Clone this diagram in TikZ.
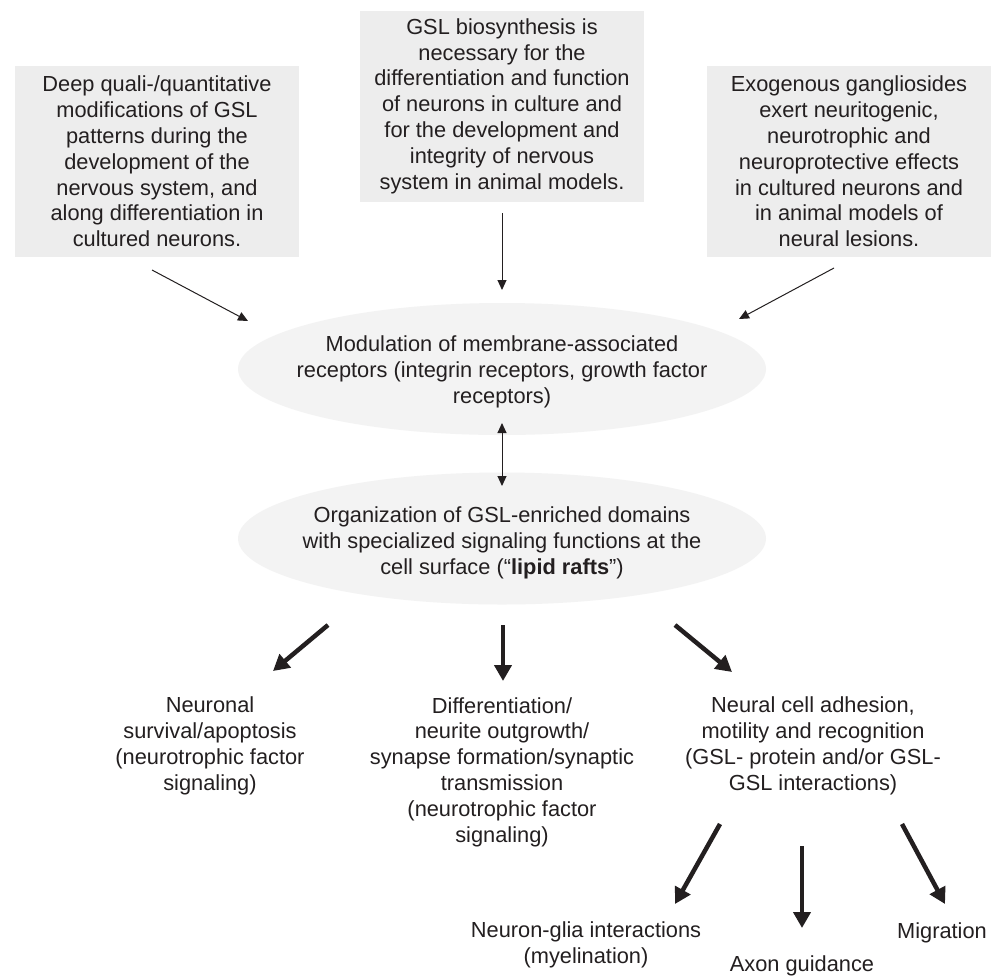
\documentclass[tikz,border=0pt]{standalone}
\usepackage{fontspec}
\setmainfont{Liberation Sans}
\usetikzlibrary{arrows.meta,shapes.geometric}
\definecolor{boxgray}{RGB}{237,237,237}
\definecolor{ellgray}{RGB}{243,243,243}
\definecolor{ink}{RGB}{35,31,32}
\begin{document}
\begin{tikzpicture}[x=1pt,y=-1pt,
  txt/.style={font=\fontsize{21.8}{25.8}\selectfont, text=ink, align=center, inner sep=0pt},
  topbox/.style={txt, fill=boxgray, minimum width=284pt, minimum height=191pt},
  oval/.style={ellipse, fill=ellgray, minimum width=528pt, minimum height=132pt, inner sep=0pt},
  thinarrow/.style={draw=ink, line width=1pt, -{Triangle[length=10pt,width=9pt]}},
  dblarrow/.style={draw=ink, line width=1pt, {Triangle[length=10pt,width=9pt]}-{Triangle[length=10pt,width=9pt]}},
  thickarrow/.style={draw=ink, line width=4.5pt, -{Triangle[length=16pt,width=17pt]}}]
\path[use as bounding box, fill=white] (0,0) rectangle (998,975);

% top boxes
\node[topbox] (boxL) at (157,161.5) {Deep quali-/quantitative\\modifications of GSL\\patterns during the\\development of the\\nervous system, and\\along differentiation in\\cultured neurons.};
\node[topbox] (boxC) at (502,106) {GSL biosynthesis is\\necessary for the\\differentiation and function\\of neurons in culture and\\for the development and\\integrity of nervous\\system in animal models.};
\node[topbox] (boxR) at (849,161.5) {Exogenous gangliosides\\exert neuritogenic,\\neurotrophic and\\neuroprotective effects\\in cultured neurons and\\in animal models of\\neural lesions.};

% ellipses
\node[oval] (ell1) at (502,369) {};
\node[txt] (ell1txt) at (502,372) {Modulation of membrane-associated\\receptors (integrin receptors, growth factor\\receptors)};
\node[oval] (ell2) at (502,538.5) {};
\node[txt] (ell2txt) at (502,543) {Organization of GSL-enriched domains\\with specialized signaling functions at the\\cell surface (“\textbf{lipid rafts}”)};

% bottom texts
\node[txt] (outL) at (210,746) {Neuronal\\survival/apoptosis\\(neurotrophic factor\\signaling)};
\node[txt] (outC) at (502,772) {Differentiation/\\neurite outgrowth/\\synapse formation/synaptic\\transmission\\(neurotrophic factor\\signaling)};
\node[txt] (outR) at (813,746) {Neural cell adhesion,\\motility and recognition\\(GSL- protein and/or GSL-\\GSL interactions)};
\node[txt] (glia) at (586,945) {Neuron-glia interactions\\(myelination)};
\node[txt] (axon) at (802,966) {Axon guidance};
\node[txt] (migr) at (942,933) {Migration};

% arrow end points
\coordinate (a1s) at (152,270); \coordinate (a1e) at (248,321);
\coordinate (a2s) at (502,213); \coordinate (a2e) at (502,290);
\coordinate (a3s) at (834,268); \coordinate (a3e) at (739,319);
\coordinate (d1) at (502,423); \coordinate (d2) at (502,486);
\coordinate (b1s) at (328,625); \coordinate (b1e) at (273,671);
\coordinate (b2s) at (503,625); \coordinate (b2e) at (503,681);
\coordinate (b3s) at (675,625); \coordinate (b3e) at (732,672);
\coordinate (c1s) at (720,824); \coordinate (c1e) at (675,904);
\coordinate (c2s) at (802,846); \coordinate (c2e) at (802,928);
\coordinate (c3s) at (902,824); \coordinate (c3e) at (945,904);

\draw[thinarrow] (a1s) -- (a1e);
\draw[thinarrow] (a2s) -- (a2e);
\draw[thinarrow] (a3s) -- (a3e);
\draw[dblarrow] (d1) -- (d2);
\draw[thickarrow] (b1s) -- (b1e);
\draw[thickarrow] (b2s) -- (b2e);
\draw[thickarrow] (b3s) -- (b3e);
\draw[thickarrow] (c1s) -- (c1e);
\draw[thickarrow] (c2s) -- (c2e);
\draw[thickarrow] (c3s) -- (c3e);
\end{tikzpicture}
\end{document}
